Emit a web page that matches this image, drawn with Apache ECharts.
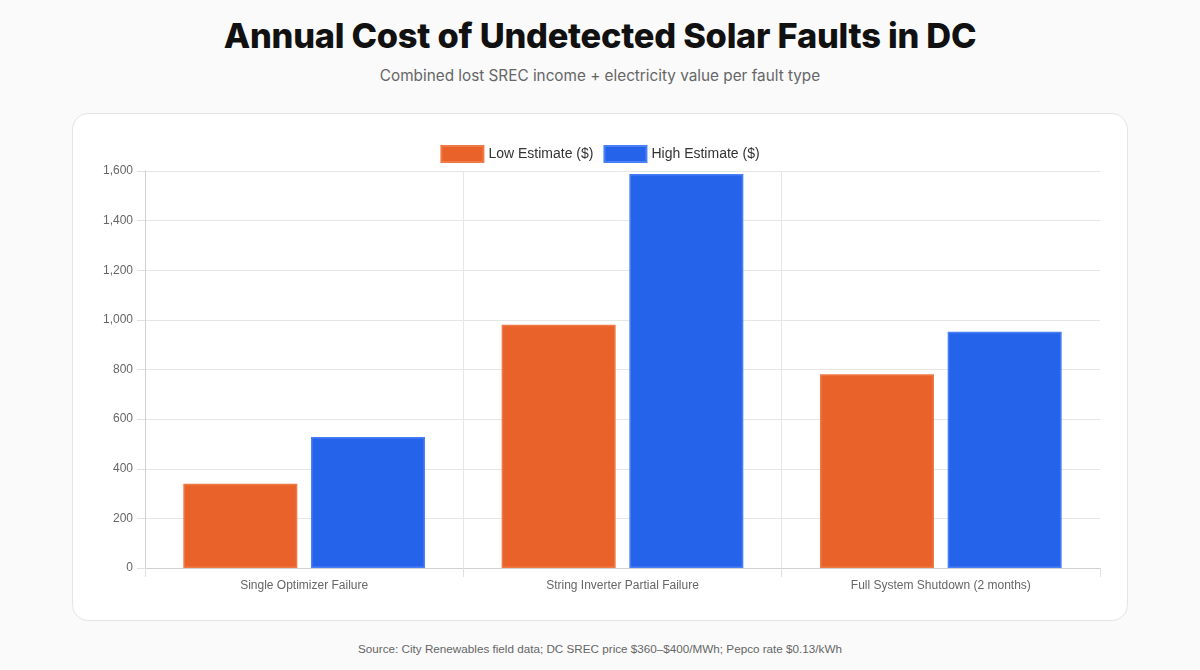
<!DOCTYPE html>
<html lang="en">
<head>
<meta charset="UTF-8">
<title>Annual Cost of Undetected Solar Faults in DC</title>
<script src="https://cdn.jsdelivr.net/npm/echarts@6/dist/echarts.min.js"></script>
<style>
  html, body { margin: 0; height: 100%; background: #fafafa; }
  body { position: relative; width: 1200px; height: 670px; font-family: Inter, "Liberation Sans", sans-serif; }
  #title { position: absolute; top: 15px; left: 0; width: 1200px; text-align: center; font-size: 34.4px; font-weight: 800; color: #111; letter-spacing: -0.25px; }
  #sub { position: absolute; top: 66px; left: 0; width: 1200px; text-align: center; font-size: 15.3px; color: #666; }
  #card { position: absolute; left: 72px; top: 113px; width: 1054px; height: 506px; background: #fff; border: 1px solid #e4e4e4; border-radius: 16px; }
  #chart { width: 1054px; height: 506px; }
  #src { position: absolute; top: 642px; left: 0; width: 1200px; text-align: center; font-size: 11.7px; color: #666; font-family: "Liberation Sans", Arial, sans-serif; }
</style>
</head>
<body>
<div id="title">Annual Cost of Undetected Solar Faults in DC</div>
<div id="sub">Combined lost SREC income + electricity value per fault type</div>
<div id="card"><div id="chart"></div></div>
<div id="src">Source: City Renewables field data; DC SREC price $360–$400/MWh; Pepco rate $0.13/kWh</div>
<script type="text/javascript">
    // data
    var categories = ['Single Optimizer Failure', 'String Inverter Partial Failure', 'Full System Shutdown (2 months)'];
    var lowEstimate = [340, 980, 781];
    var highEstimate = [528, 1588, 952];

    var myChart = echarts.init(document.getElementById('chart'));
    var txt = { color: '#666', fontSize: 12, fontFamily: 'Liberation Sans, Arial, sans-serif' };

    var option = {
        animation: false,
        legend: {
            top: 26,
            left: 'center',
            icon: 'rect',
            itemWidth: 42,
            itemHeight: 16,
            itemGap: 10,
            textStyle: { color: '#333', fontSize: 14, fontFamily: 'Liberation Sans, Arial, sans-serif' },
            data: ['Low Estimate ($)', 'High Estimate ($)']
        },
        grid: { left: 72, top: 57, right: 27, bottom: 52, containLabel: false },
        xAxis: {
            type: 'category',
            data: categories,
            axisLine: { lineStyle: { color: '#d0d0d0' } },
            axisTick: { show: true, length: 9, lineStyle: { color: '#e0e0e0' } },
            splitLine: { show: true, showMaxLine: false, lineStyle: { color: '#e6e6e6' } },
            axisLabel: Object.assign({ margin: 12 }, txt)
        },
        yAxis: {
            type: 'value',
            min: 0,
            max: 1600,
            interval: 200,
            axisLine: { show: true, lineStyle: { color: '#d0d0d0' } },
            axisTick: { show: true, length: 8, lineStyle: { color: '#e0e0e0' } },
            splitLine: { lineStyle: { color: '#e6e6e6' } },
            axisLabel: Object.assign({
                margin: 12,
                formatter: function (v) { return v.toLocaleString('en-US'); }
            }, txt)
        },
        series: [
            {
                name: 'Low Estimate ($)',
                type: 'bar',
                data: lowEstimate,
                barWidth: 114,
                barGap: '12%',
                itemStyle: { color: '#e9622a', borderColor: '#f07a45', borderWidth: 1.5 }
            },
            {
                name: 'High Estimate ($)',
                type: 'bar',
                data: highEstimate,
                barWidth: 114,
                barGap: '12%',
                itemStyle: { color: '#2563eb', borderColor: '#4a80f5', borderWidth: 1.5 }
            }
        ]
    };

    myChart.setOption(option);
</script>
</body>
</html>
